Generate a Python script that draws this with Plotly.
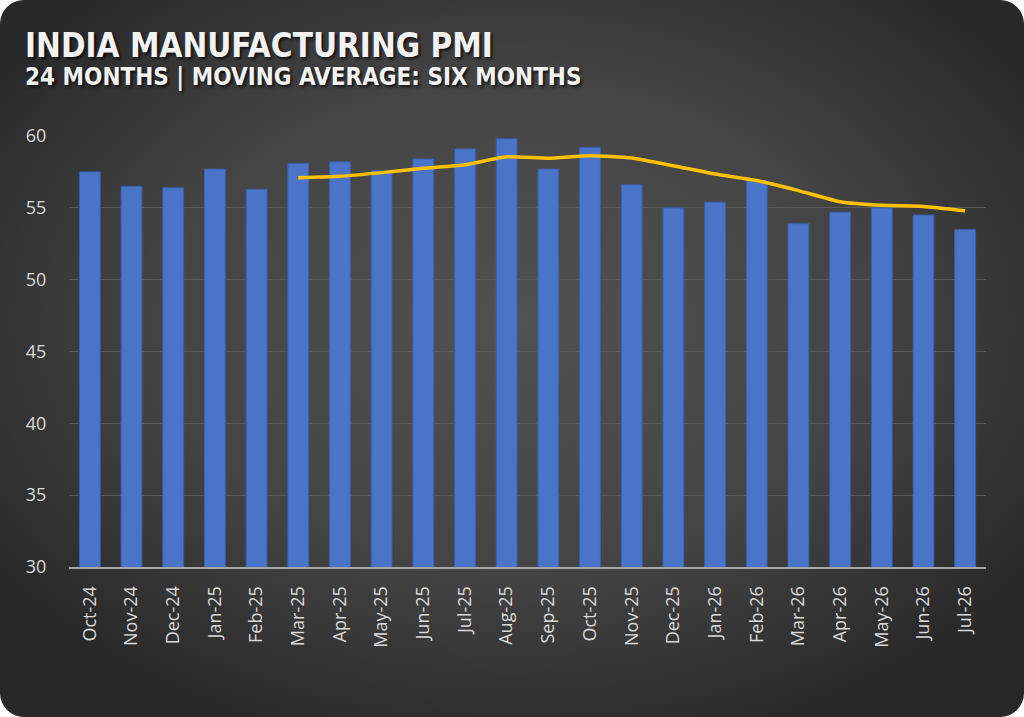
import base64
import plotly.graph_objects as go

months = ["Oct-24", "Nov-24", "Dec-24", "Jan-25", "Feb-25", "Mar-25", "Apr-25",
          "May-25", "Jun-25", "Jul-25", "Aug-25", "Sep-25", "Oct-25", "Nov-25",
          "Dec-25", "Jan-26", "Feb-26", "Mar-26", "Apr-26", "May-26", "Jun-26",
          "Jul-26"]
pmi = [57.5, 56.5, 56.4, 57.7, 56.3, 58.1, 58.2, 57.6, 58.4, 59.1, 59.8,
       57.7, 59.2, 56.6, 55.0, 55.4, 56.9, 53.9, 54.7, 55.0, 54.5, 53.5]
# six month moving average, starts at Mar-25
ma_months = months[5:]
ma6 = [57.1, 57.2, 57.45, 57.75, 58.0, 58.55, 58.45, 58.63, 58.47, 57.93,
       57.35, 56.9, 56.2, 55.43, 55.18, 55.1, 54.8]

W, H = 1024, 717
L, R, T, B = 69, 38, 136, 150
pw, ph = W - L - R, H - T - B

# rounded dark card with a soft radial glow, used as the page background
svg = f"""<svg xmlns='http://www.w3.org/2000/svg' width='{W}' height='{H}'>
<defs><radialGradient id='g' cx='0.5' cy='0.45' r='0.62'>
<stop offset='0' stop-color='#515151'/><stop offset='0.55' stop-color='#444444'/>
<stop offset='1' stop-color='#282828'/></radialGradient></defs>
<rect x='0' y='0' width='{W}' height='{H}' rx='24' ry='24' fill='url(#g)'/></svg>"""
bg = "data:image/svg+xml;base64," + base64.b64encode(svg.encode()).decode()

fig = go.Figure()
fig.add_trace(go.Bar(
    x=months, y=pmi,
    marker=dict(color="#4a74c8", line=dict(color="#3a5fa8", width=1)),
    name="PMI",
))
fig.add_trace(go.Scatter(
    x=ma_months, y=ma6, mode="lines",
    line=dict(color="#ffc000", width=3.5, shape="spline", smoothing=0.5),
    name="6M MA",
))

shadow = "2px 2px 3px rgba(0,0,0,0.7)"
fig.update_layout(
    width=W, height=H,
    margin=dict(l=L, r=R, t=T, b=B),
    paper_bgcolor="white",
    plot_bgcolor="rgba(0,0,0,0)",
    showlegend=False,
    bargap=0.5,
    font=dict(family="Open Sans", color="#d9d9d9"),
    images=[dict(source=bg, xref="paper", yref="paper",
                 x=-L / pw, y=1 + T / ph, sizex=W / pw, sizey=H / ph,
                 xanchor="left", yanchor="top", sizing="stretch", layer="below")],
    annotations=[
        dict(text="<b>INDIA MANUFACTURING PMI</b>", xref="paper", yref="paper",
             x=-46 / pw, y=1 + 90 / ph, xanchor="left", yanchor="middle",
             showarrow=False,
             font=dict(family="DejaVu Sans Condensed", size=33, color="#f2f2f2",
                       shadow=shadow)),
        dict(text="<b>24 MONTHS | MOVING AVERAGE: SIX MONTHS</b>", xref="paper", yref="paper",
             x=-46 / pw, y=1 + 59 / ph, xanchor="left", yanchor="middle",
             showarrow=False,
             font=dict(family="DejaVu Sans Condensed", size=24, color="#f2f2f2",
                       shadow=shadow)),
    ],
)
fig.update_xaxes(
    type="category", tickangle=-90,
    tickfont=dict(size=18, color="#d9d9d9"),
    ticks="outside", ticklen=10, tickcolor="rgba(0,0,0,0)",
    showline=True, linecolor="#a6a6a6", linewidth=2,
    showgrid=False,
)
fig.update_yaxes(
    range=[30, 60], dtick=5,
    tickfont=dict(size=18, color="#d9d9d9"),
    ticks="outside", ticklen=18, tickcolor="rgba(0,0,0,0)",
    showgrid=True, gridcolor="#5a5a5a", gridwidth=1,
    zeroline=False, showline=False,
)

fig.write_html("out.html", config={"displayModeBar": False},
               post_script="document.body.style.margin='0';")
